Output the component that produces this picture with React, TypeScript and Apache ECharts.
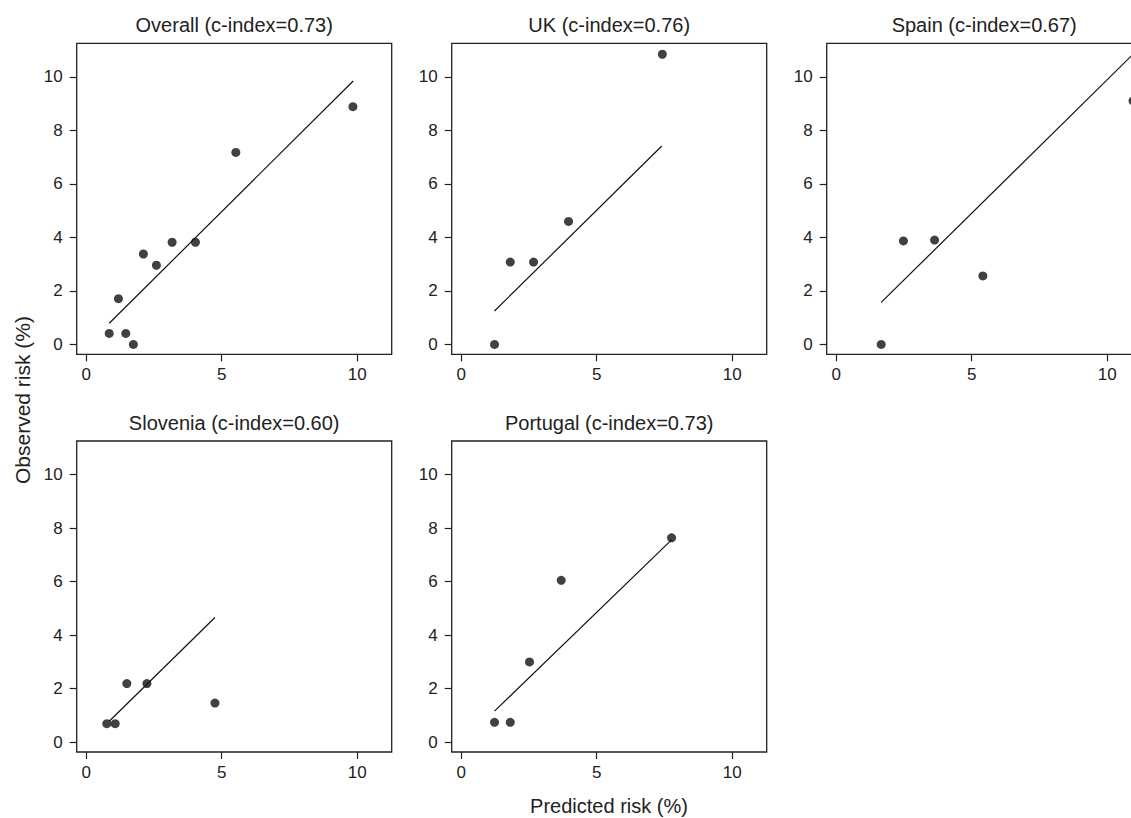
import React, { useEffect, useRef } from "react";
import * as echarts from "echarts";

// ---- data ----
const panelTitles = [
  "Overall (c-index=0.73)",
  "UK (c-index=0.76)",
  "Spain (c-index=0.67)",
  "Slovenia (c-index=0.60)",
  "Portugal (c-index=0.73)",
];

const overallPredicted = [0.85, 1.19, 1.46, 1.74, 2.11, 2.59, 3.17, 4.03, 5.52, 9.84];
const overallObserved = [0.41, 1.71, 0.41, 0.0, 3.38, 2.96, 3.82, 3.82, 7.18, 8.89];
const overallFitX = [0.85, 9.85];
const overallFitY = [0.79, 9.85];

const ukPredicted = [1.23, 1.81, 2.67, 3.96, 7.42];
const ukObserved = [0.0, 3.08, 3.08, 4.6, 10.85];
const ukFitX = [1.23, 7.4];
const ukFitY = [1.25, 7.42];

const spainPredicted = [1.66, 2.48, 3.63, 5.41, 10.95];
const spainObserved = [0.0, 3.87, 3.9, 2.56, 9.11];
const spainFitX = [1.66, 10.95];
const spainFitY = [1.57, 10.85];

const sloveniaPredicted = [0.76, 1.07, 1.5, 2.24, 4.75];
const sloveniaObserved = [0.69, 0.69, 2.19, 2.19, 1.46];
const sloveniaFitX = [0.85, 4.75];
const sloveniaFitY = [0.78, 4.66];

const portugalPredicted = [1.23, 1.81, 2.52, 3.69, 7.76];
const portugalObserved = [0.74, 0.74, 3.0, 6.05, 7.64];
const portugalFitX = [1.23, 7.76];
const portugalFitY = [1.16, 7.56];

const xTicks = [0, 5, 10];
const yTicks = [0, 2, 4, 6, 8, 10];
const xRange = [-0.35, 11.27];
const yRange = [-0.37, 11.26];

const xAxisTitle = "Predicted risk (%)";
const yAxisTitle = "Observed risk (%)";

const panelsPredicted = [overallPredicted, ukPredicted, spainPredicted, sloveniaPredicted, portugalPredicted];
const panelsObserved = [overallObserved, ukObserved, spainObserved, sloveniaObserved, portugalObserved];
const panelsFitX = [overallFitX, ukFitX, spainFitX, sloveniaFitX, portugalFitX];
const panelsFitY = [overallFitY, ukFitY, spainFitY, sloveniaFitY, portugalFitY];

// ---- layout ----
const W = 1131;
const H = 818;
const CHART_W = 1160; // wider than the page so the third column can run past the right edge
const colLeft = [76.7, 451.7, 826.7];
const rowTop = [43.3, 441];
const boxW = 315;
const boxH = 311;
const FONT = "'Liberation Sans', Arial, Helvetica, sans-serif";
const TEXT = "#222";
const INK = "#111";

function zip(a: number[], b: number[]) {
  return a.map((v, i) => [v, b[i]]);
}

export default function App() {
  const ref = useRef<HTMLDivElement>(null);

  useEffect(() => {
    if (!ref.current) return;
    const chart = echarts.init(ref.current, undefined, { renderer: "svg" });

    const grids: any[] = [];
    const xAxes: any[] = [];
    const yAxes: any[] = [];
    const series: any[] = [];
    const graphics: any[] = [];

    panelTitles.forEach((title, i) => {
      const col = i % 3;
      const row = Math.floor(i / 3);
      const left = colLeft[col];
      const top = rowTop[row];
      grids.push({
        left,
        top,
        width: boxW,
        height: boxH,
        show: true,
        borderColor: "#222",
        borderWidth: 1.3,
        backgroundColor: "transparent",
        containLabel: false,
      });
      xAxes.push({
        type: "value",
        gridIndex: i,
        min: xRange[0],
        max: xRange[1],
        splitLine: { show: false },
        axisLine: { show: false, onZero: false },
        axisTick: { show: true, length: 7, lineStyle: { color: "#222", width: 1.2 }, customValues: xTicks },
        axisLabel: { customValues: xTicks, margin: 12, fontSize: 17, color: TEXT, fontFamily: FONT },
      });
      yAxes.push({
        type: "value",
        gridIndex: i,
        min: yRange[0],
        max: yRange[1],
        splitLine: { show: false },
        axisLine: { show: false, onZero: false },
        axisTick: { show: true, length: 7, lineStyle: { color: "#222", width: 1.2 }, customValues: yTicks },
        axisLabel: { customValues: yTicks, margin: 14, fontSize: 17, color: TEXT, fontFamily: FONT },
      });
      series.push({
        type: "line",
        xAxisIndex: i,
        yAxisIndex: i,
        data: zip(panelsFitX[i], panelsFitY[i]),
        symbol: "none",
        lineStyle: { color: INK, width: 1.2 },
        silent: true,
      });
      series.push({
        type: "scatter",
        xAxisIndex: i,
        yAxisIndex: i,
        data: zip(panelsPredicted[i], panelsObserved[i]),
        symbol: "circle",
        symbolSize: 9,
        itemStyle: { color: INK },
        silent: true,
      });
      graphics.push({
        type: "text",
        x: left + boxW / 2,
        y: top - 18,
        style: {
          text: title,
          fill: TEXT,
          font: `20px ${FONT}`,
          align: "center",
          verticalAlign: "middle",
        },
      });
    });

    graphics.push({
      type: "text",
      x: 609,
      y: 806,
      style: { text: xAxisTitle, fill: TEXT, font: `20px ${FONT}`, align: "center", verticalAlign: "middle" },
    });
    graphics.push({
      type: "text",
      x: 22,
      y: 400,
      rotation: Math.PI / 2,
      style: { text: yAxisTitle, fill: TEXT, font: `21px ${FONT}`, align: "center", verticalAlign: "middle" },
    });

    chart.setOption({
      animation: false,
      backgroundColor: "#fff",
      grid: grids,
      xAxis: xAxes,
      yAxis: yAxes,
      series,
      graphic: graphics,
    });

    return () => chart.dispose();
  }, []);

  return (
    <div
      style={{ position: "absolute", left: 0, top: 0, width: W, height: H, overflow: "hidden", background: "#fff" }}
    >
      <div ref={ref} style={{ width: CHART_W, height: H }} />
    </div>
  );
}
